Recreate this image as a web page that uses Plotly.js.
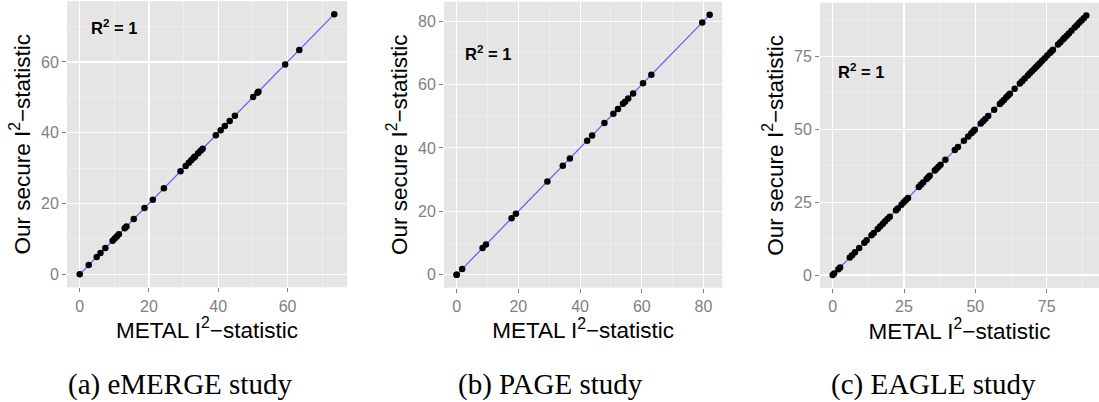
<!DOCTYPE html>
<html>
<head>
<meta charset="utf-8">
<script src="https://cdn.plot.ly/plotly-3.0.1.min.js"></script>
<style>html,body{margin:0;padding:0;background:#fff;}#chart{width:1099px;height:402px;}</style>
</head>
<body>
<div id="chart"></div>
<script>
// (a) eMERGE study: METAL I^2 vs our secure I^2
const emergeMetal = [0, 2.6, 4.9, 6.0, 7.4, 9.5, 10.1, 10.7, 11.3, 13.0, 13.5, 15.6, 18.7, 21.1, 24.3, 29.1, 30.6, 31.5, 32.2, 32.9, 33.3, 34.2, 34.9, 35.5, 39.3, 40.7, 41.9, 43.3, 44.8, 50.1, 51.3, 51.6, 59.3, 63.4, 73.5];
const emergeSecure = [0, 2.6, 4.9, 6.0, 7.4, 9.5, 10.1, 10.7, 11.3, 13.0, 13.5, 15.6, 18.7, 21.1, 24.3, 29.1, 30.6, 31.5, 32.2, 32.9, 33.3, 34.2, 34.9, 35.5, 39.3, 40.7, 41.9, 43.3, 44.8, 50.1, 51.3, 51.6, 59.3, 63.4, 73.5];
// (b) PAGE study
const pageMetal = [0, 0, 1.8, 8.4, 9.5, 17.8, 19.2, 29.4, 34.4, 36.7, 42.3, 43.9, 47.9, 50.8, 52.3, 53.9, 54.6, 55.6, 57.2, 60.4, 63.1, 79.6, 82.0];
const pageSecure = [0, 0, 1.8, 8.4, 9.5, 17.8, 19.2, 29.4, 34.4, 36.7, 42.3, 43.9, 47.9, 50.8, 52.3, 53.9, 54.6, 55.6, 57.2, 60.4, 63.1, 79.6, 82.0];
// (c) EAGLE study
const eagleMetal = [0, 0.5, 2.0, 2.6, 6.0, 6.8, 7.8, 9.3, 11.1, 11.9, 13.6, 14.4, 15.8, 16.6, 17.5, 18.3, 19.2, 20.0, 22.2, 22.8, 24.1, 24.9, 25.7, 26.4, 30.2, 30.9, 31.7, 32.9, 33.5, 34.0, 35.8, 36.4, 37.1, 37.8, 39.5, 42.8, 43.9, 46.0, 47.5, 48.6, 49.3, 49.8, 51.9, 52.7, 53.5, 54.5, 56.6, 58.6, 59.3, 60.0, 60.8, 61.5, 62.1, 63.8, 65.6, 66.4, 67.3, 68.4, 69.1, 69.9, 70.7, 71.3, 71.9, 72.6, 73.4, 74.3, 75.2, 76.1, 76.7, 77.2, 79.0, 79.8, 80.7, 81.3, 82.0, 82.8, 83.7, 84.8, 85.6, 86.4, 87.2, 88.0, 88.9];
const eagleSecure = [0, 0.5, 2.0, 2.6, 6.0, 6.8, 7.8, 9.3, 11.1, 11.9, 13.6, 14.4, 15.8, 16.6, 17.5, 18.3, 19.2, 20.0, 22.2, 22.8, 24.1, 24.9, 25.7, 26.4, 30.2, 30.9, 31.7, 32.9, 33.5, 34.0, 35.8, 36.4, 37.1, 37.8, 39.5, 42.8, 43.9, 46.0, 47.5, 48.6, 49.3, 49.8, 51.9, 52.7, 53.5, 54.5, 56.6, 58.6, 59.3, 60.0, 60.8, 61.5, 62.1, 63.8, 65.6, 66.4, 67.3, 68.4, 69.1, 69.9, 70.7, 71.3, 71.9, 72.6, 73.4, 74.3, 75.2, 76.1, 76.7, 77.2, 79.0, 79.8, 80.7, 81.3, 82.0, 82.8, 83.7, 84.8, 85.6, 86.4, 87.2, 88.0, 88.9];

const captions = ["(a) eMERGE study", "(b) PAGE study", "(c) EAGLE study"];
const xTitle = "METAL I<sup>2</sup>\u2212statistic";
const yTitle = "Our secure I<sup>2</sup>\u2212statistic";
const r2Label = "<b>R<sup>2</sup> = 1</b>";
const majorStep = [20, 20, 25];

const panels = [
  {x: emergeMetal, y: emergeSecure},
  {x: pageMetal, y: pageSecure},
  {x: eagleMetal, y: eagleSecure}
];

// layout geometry (pixels) for each panel
const W = 1099, H = 402;
const boxes = [
  {l: 67, r: 347, t: 1.2, b: 287.3, cap: 180},
  {l: 444, r: 722.3, t: 1.8, b: 287.7, cap: 550},
  {l: 820, r: 1099, t: 2.6, b: 288, cap: 933}
];

const traces = [];
const layout = {
  width: W, height: H,
  margin: {l: 0, r: 0, t: 0, b: 0},
  paper_bgcolor: '#ffffff',
  plot_bgcolor: '#E5E5E5',
  showlegend: false,
  font: {family: 'Liberation Sans, Arial, sans-serif', color: '#000'},
  annotations: []
};

panels.forEach((p, i) => {
  const sfx = i === 0 ? '' : String(i + 1);
  const xa = 'x' + sfx, ya = 'y' + sfx;
  const lo = Math.min(...p.x), hi = Math.max(...p.x);
  const span = hi - lo;
  const rng = [lo - 0.05 * span, hi + 0.05 * span];
  traces.push({
    type: 'scatter', mode: 'lines', xaxis: xa, yaxis: ya,
    x: [lo, hi], y: [Math.min(...p.y), Math.max(...p.y)],
    line: {color: '#5c5cff', width: 1.2}, hoverinfo: 'skip'
  });
  traces.push({
    type: 'scatter', mode: 'markers', xaxis: xa, yaxis: ya,
    x: p.x, y: p.y,
    marker: {color: '#000', size: 6.5}
  });
  const bx = boxes[i];
  const common = {
    range: rng,
    dtick: majorStep[i], tick0: 0,
    showgrid: true, gridcolor: '#FFFFFF', gridwidth: 1.1,
    minor: {dtick: majorStep[i] / 2, tick0: 0, showgrid: true, gridcolor: '#F2F2F2', gridwidth: 0.6, ticks: ''},
    zeroline: false, showline: false,
    ticks: 'outside', ticklen: 4, tickwidth: 1, tickcolor: '#7F7F7F',
    tickfont: {size: 16, color: '#7F7F7F', family: 'Liberation Sans, Arial, sans-serif'},
    fixedrange: true
  };
  layout['xaxis' + sfx] = Object.assign({}, common, {
    domain: [bx.l / W, bx.r / W], anchor: ya,
    title: {text: xTitle, font: {size: 22.5, color: '#000'}, standoff: 8}
  });
  layout['yaxis' + sfx] = Object.assign({}, common, {
    domain: [(H - bx.b) / H, (H - bx.t) / H], anchor: xa,
    title: {text: yTitle, font: {size: 22.5, color: '#000'}, standoff: 4}
  });
  layout.annotations.push({
    xref: xa, yref: ya, x: 10, y: 70, text: r2Label, showarrow: false,
    xanchor: 'center', yanchor: 'middle',
    font: {size: 16.5, color: '#000', family: 'Liberation Sans, Arial, sans-serif'}
  });
  layout.annotations.push({
    xref: 'paper', yref: 'paper', x: bx.cap / W, y: (H - 384) / H, text: captions[i],
    showarrow: false, xanchor: 'center', yanchor: 'middle',
    font: {size: 29, color: '#000', family: 'Liberation Serif, Times New Roman, serif'}
  });
});

Plotly.newPlot('chart', traces, layout, {staticPlot: true, displayModeBar: false});
</script>
</body>
</html>
